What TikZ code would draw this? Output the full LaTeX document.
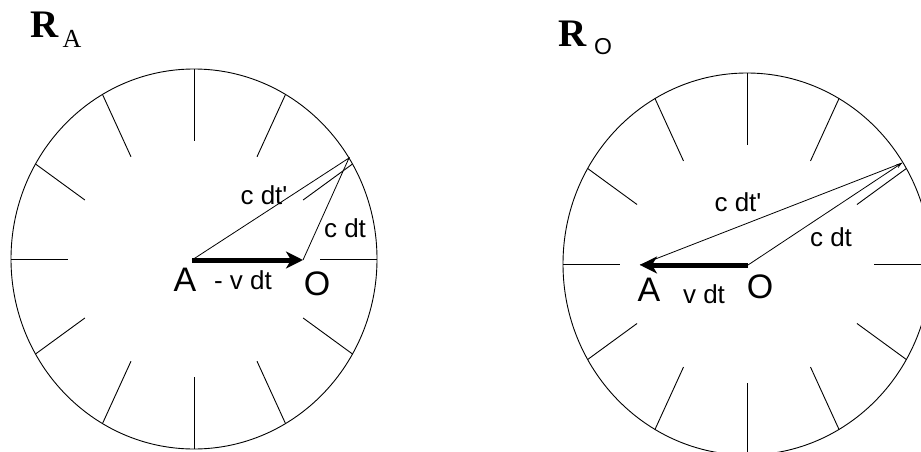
\documentclass[tikz,border=0pt]{standalone}
\usepackage{fontspec}
\setmainfont{Liberation Serif}
\setsansfont{Liberation Sans}
\usepackage{tikz}
\usetikzlibrary{arrows.meta,calc}
\tikzset{
  rim/.style={draw=black,line width=0.9pt},
  dial/.style={draw=black,line width=0.9pt},
  ray/.style={draw=black,line width=0.8pt},
  vdt/.style={draw=black,line width=5pt,-{Stealth[length=17pt,width=17pt,inset=5pt]}},
  lbl/.style={font=\sffamily\fontsize{26}{26}\selectfont,inner sep=0pt},
  ptlabel/.style={font=\sffamily\fontsize{34}{34}\selectfont,inner sep=0pt},
  frametitle/.style={font=\fontsize{39}{39}\selectfont\bfseries,inner sep=0pt},
}

\begin{document}
\begin{tikzpicture}[x=1pt,y=-1pt]
  \useasboundingbox (0,0) rectangle (921,452);
  % frame R_A
  \coordinate (c1) at (194,259);
  \coordinate (a1) at (192,260);
  \coordinate (o1) at (303,260);
  \coordinate (p1) at (349,158);
  \draw[rim] (c1) ellipse [x radius=183,y radius=190];
  \foreach \t in {0,30,...,330}
    \draw[dial] ($(c1)+(\t:183 and 190)$) -- ($(c1)+(\t:126 and 118)$);
  \draw[ray] (a1) -- (p1) -- (o1);
  \draw[vdt] (a1) -- (o1);
  \node[frametitle] (r1) at (45,25) {R};
  \node[font=\fontsize{26}{26}\selectfont,inner sep=0pt] (s1) at (72,39) {A};
  \node[lbl] (cdtp1) at (264,195) {c dt\textquotesingle};
  \node[lbl] (cdt1) at (345,228) {c dt};
  \node[ptlabel] (la1) at (185,280) {A};
  \node[lbl] (lv1) at (243,280) {- v dt};
  \node[ptlabel] (lo1) at (317,284) {O};
  % frame R_O
  \coordinate (c2) at (747,264);
  \coordinate (a2) at (640,265);
  \coordinate (o2) at (748,265);
  \coordinate (p2) at (902,163);
  \draw[rim] (c2) ellipse [x radius=184,y radius=191];
  \foreach \t in {0,30,...,330}
    \draw[dial] ($(c2)+(\t:184 and 191)$) -- ($(c2)+(\t:127 and 119)$);
  \draw[ray] (p2) -- (a2);
  \draw[ray,-{Stealth[length=6pt,width=4pt]}] (o2) -- (p2);
  \draw[vdt] (o2) -- (a2);
  \node[frametitle] (r2) at (573,34) {R};
  \node[font=\sffamily\fontsize{23}{23}\selectfont,inner sep=0pt] (s2) at (603,47) {O};
  \node[lbl] (cdtp2) at (738,202) {c dt\textquotesingle};
  \node[lbl] (cdt2) at (831,237) {c dt};
  \node[ptlabel] (la2) at (649,290) {A};
  \node[lbl] (lv2) at (704,294) {v dt};
  \node[ptlabel] (lo2) at (760,287) {O};
\end{tikzpicture}
\end{document}
